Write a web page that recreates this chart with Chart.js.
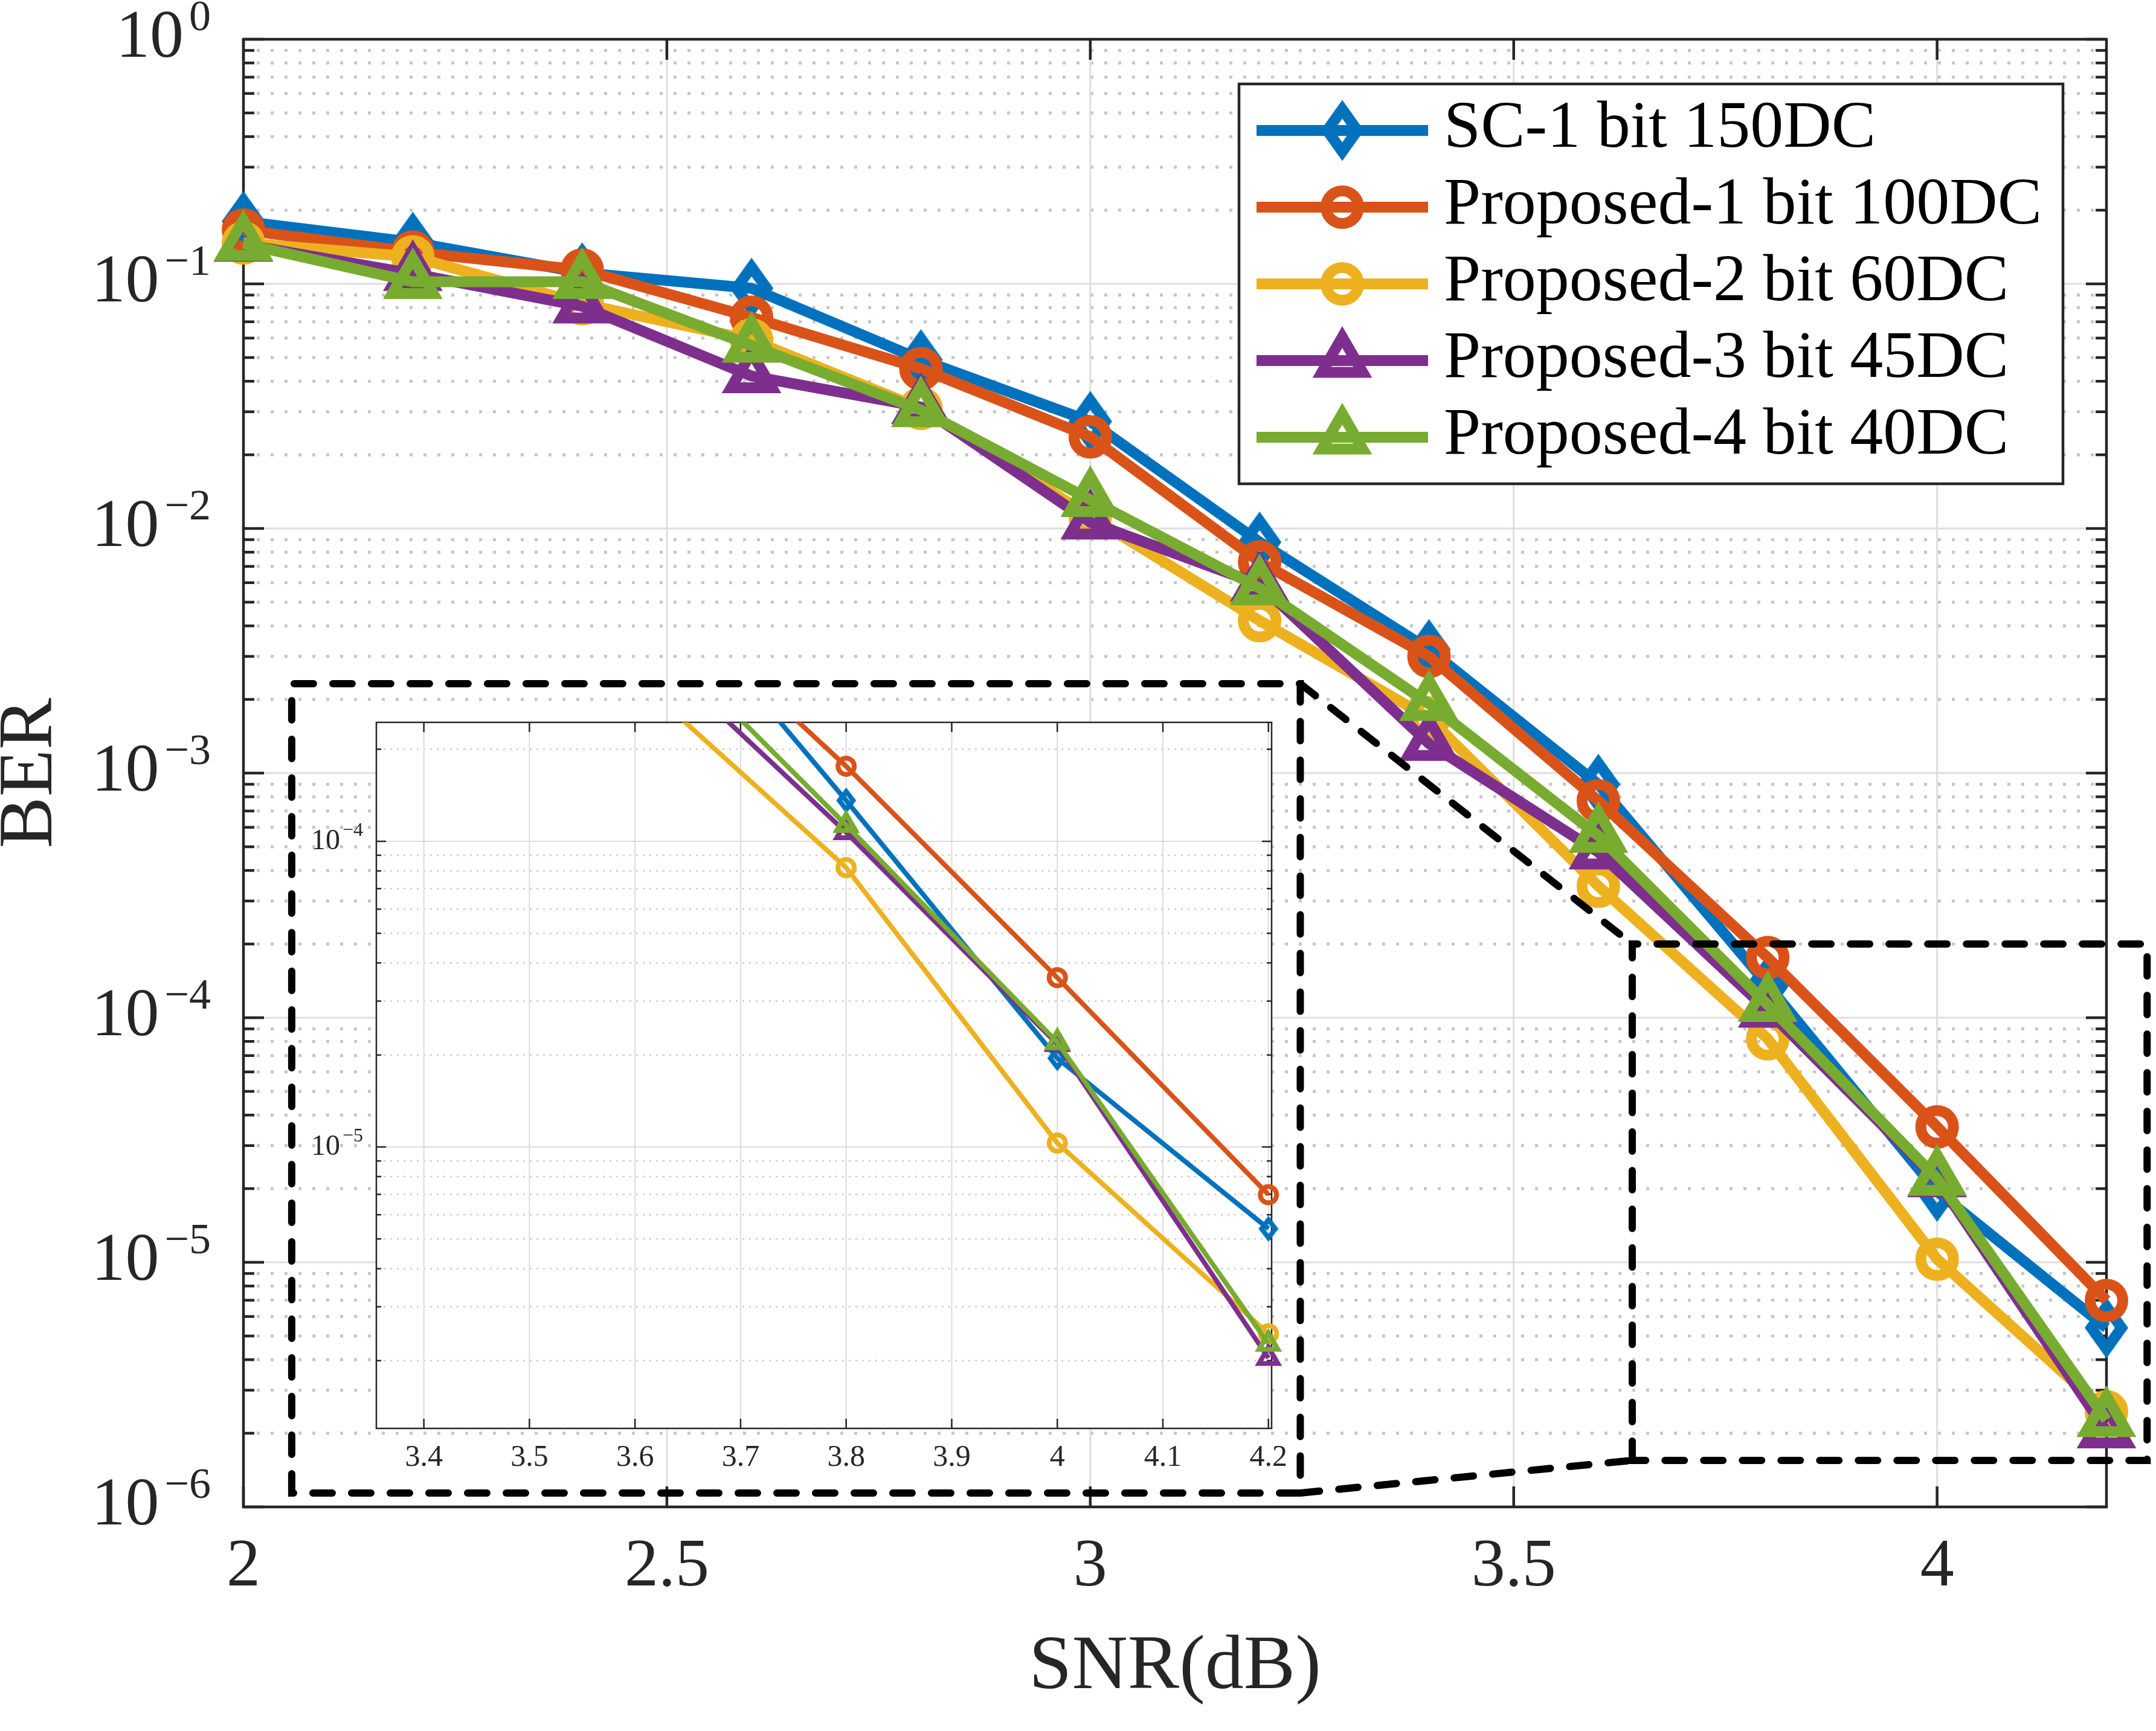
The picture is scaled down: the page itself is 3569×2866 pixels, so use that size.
<!DOCTYPE html>
<html>
<head>
<meta charset="utf-8">
<script src="https://cdn.jsdelivr.net/npm/chart.js@4.4.1/dist/chart.umd.min.js"></script>
<style>
html,body{margin:0;padding:0;background:#ffffff;}
#wrap{position:relative;width:3569px;height:2866px;overflow:hidden;background:#ffffff;}
#main{position:absolute;left:0;top:0;}
#inset{position:absolute;left:480px;top:1140px;}
</style>
</head>
<body>
<div id="wrap">
<canvas id="main" width="3569" height="2866"></canvas>
<canvas id="inset" width="1720" height="1330"></canvas>
</div>
<script>
// ---------------- data ----------------
const snr = [2.0, 2.2, 2.4, 2.6, 2.8, 3.0, 3.2, 3.4, 3.6, 3.8, 4.0, 4.2];
const berSC1bit150DC   = [0.180, 0.148, 0.111, 0.096, 0.049, 0.0274, 0.0088, 0.0032, 0.00090, 0.000136, 1.95e-5, 5.4e-6];
const berProp1bit100DC = [0.166, 0.135, 0.114, 0.073, 0.045, 0.0237, 0.0073, 0.0030, 0.00077, 0.000176, 3.58e-5, 6.98e-6];
const berProp2bit60DC  = [0.147, 0.129, 0.083, 0.059, 0.031, 0.0112, 0.0042, 0.00168, 0.000345, 8.2e-5, 1.03e-5, 2.45e-6];
const berProp3bit45DC  = [0.145, 0.110, 0.081, 0.042, 0.0314, 0.0106, 0.0059, 0.00132, 0.000475, 0.000107, 2.17e-5, 2.04e-6];
const berProp4bit40DC  = [0.146, 0.102, 0.102, 0.056, 0.0305, 0.0131, 0.0057, 0.00192, 0.000555, 0.000113, 2.2e-5, 2.27e-6];
const seriesLabels = ['SC-1 bit 150DC', 'Proposed-1 bit 100DC', 'Proposed-2 bit 60DC', 'Proposed-3 bit 45DC', 'Proposed-4 bit 40DC'];
const seriesValues = [berSC1bit150DC, berProp1bit100DC, berProp2bit60DC, berProp3bit45DC, berProp4bit40DC];

const xTickValues = [2, 2.5, 3, 3.5, 4];
const xTickLabels = ['2', '2.5', '3', '3.5', '4'];
const yTickValues = [1e-6, 1e-5, 1e-4, 1e-3, 1e-2, 1e-1, 1];
const yTickBase = '10';
const yTickExponents = ['\u22126', '\u22125', '\u22124', '\u22123', '\u22122', '\u22121', '0'];
const insetXTickValues = [3.4, 3.5, 3.6, 3.7, 3.8, 3.9, 4.0, 4.1, 4.2];
const insetXTickLabels = ['3.4', '3.5', '3.6', '3.7', '3.8', '3.9', '4', '4.1', '4.2'];
const insetYTickValues = [1e-5, 1e-4];
const insetYTickExponents = ['\u22125', '\u22124'];

// zoom annotation extents (data units of the main axes)
const zoomRegionX = [3.64, 4.248];
const zoomRegionY = [1.55e-6, 2.0e-4];
const insetFrameX = [2.057, 3.248];
const insetFrameY = [1.14e-6, 2.32e-3];

// ---------------- styles ----------------
const FONT = "'Liberation Serif','DejaVu Serif',serif";
const COLORS = ['#0072BD', '#D95319', '#EDB120', '#7E2F8E', '#77AC30'];
const MARKERS = ['diamond', 'circle', 'circle', 'triangle', 'triangle'];
const AXIS = '#262626';

function makeDiamond(color, hw, hh, lw) {
  const c = document.createElement('canvas');
  const pad = lw + 10;
  c.width = Math.ceil(2 * (hw + pad));
  c.height = Math.ceil(2 * (hh + pad));
  const g = c.getContext('2d');
  const cx = c.width / 2, cy = c.height / 2;
  g.strokeStyle = color; g.lineWidth = lw; g.lineJoin = 'miter';
  g.beginPath();
  g.moveTo(cx, cy - hh); g.lineTo(cx + hw, cy); g.lineTo(cx, cy + hh); g.lineTo(cx - hw, cy);
  g.closePath(); g.stroke();
  return c;
}

const mainStyle = {lw: 18, circleR: 27, triR: 39, diamond: makeDiamond(COLORS[0], 25, 35, 18), markerLw: 18};
const insetStyle = {lw: 8, circleR: 13.5, triR: 18, diamond: makeDiamond(COLORS[0], 11.5, 15, 8), markerLw: 8};

function makeDatasets(st, clip) {
  return seriesValues.map((vals, i) => {
    const ps = MARKERS[i] === 'diamond' ? st.diamond : MARKERS[i];
    const r = MARKERS[i] === 'circle' ? st.circleR : st.triR;
    return {
      label: seriesLabels[i],
      data: snr.map((x, k) => ({x: x, y: vals[k]})),
      borderColor: COLORS[i],
      backgroundColor: 'rgba(0,0,0,0)',
      borderWidth: st.lw,
      borderJoinStyle: 'round',
      pointStyle: ps,
      pointRadius: r,
      pointHoverRadius: r,
      pointBorderWidth: st.markerLw,
      pointBorderColor: COLORS[i],
      pointBackgroundColor: 'rgba(0,0,0,0)',
      tension: 0,
      fill: false,
      clip: clip,
      order: seriesValues.length - 1 - i
    };
  });
}

function drawMarker(ctx, kind, st, color, x, y) {
  ctx.save();
  if (kind === 'diamond') {
    ctx.drawImage(st.diamond, x - st.diamond.width / 2, y - st.diamond.height / 2);
  } else {
    ctx.strokeStyle = color; ctx.lineWidth = st.markerLw; ctx.lineJoin = 'miter';
    ctx.beginPath();
    if (kind === 'circle') {
      ctx.arc(x, y, st.circleR, 0, Math.PI * 2);
    } else {
      const r = st.triR;
      for (let k = 0; k < 3; k++) {
        const a = k * 2 * Math.PI / 3;
        const px = x + Math.sin(a) * r, py = y - Math.cos(a) * r;
        if (k === 0) ctx.moveTo(px, py); else ctx.lineTo(px, py);
      }
      ctx.closePath();
    }
    ctx.stroke();
  }
  ctx.restore();
}

// ---------------- frame plugin (grid, inside ticks, box, power-of-ten labels) ----------------
function framePlugin(cfg) {
  return {
    id: 'frame' + cfg.name,
    beforeDatasetsDraw(chart) {
      const ctx = chart.ctx, a = chart.chartArea, xs = chart.scales.x, ys = chart.scales.y;
      ctx.save();
      if (cfg.whiteFill) { ctx.fillStyle = '#ffffff'; ctx.fillRect(a.left, a.top, a.right - a.left, a.bottom - a.top); }
      const majors = [], minors = [];
      const e0 = Math.floor(Math.log10(ys.min)), e1 = Math.ceil(Math.log10(ys.max));
      for (let e = e0; e <= e1; e++) {
        for (let m = 1; m <= 9; m++) {
          const v = m * Math.pow(10, e);
          if (v < ys.min * 0.9999 || v > ys.max * 1.0001) continue;
          (m === 1 ? majors : minors).push(ys.getPixelForValue(v));
        }
      }
      const xp = xs.ticks.map(t => xs.getPixelForValue(t.value));
      ctx.lineCap = 'butt';
      ctx.strokeStyle = cfg.minorColor; ctx.lineWidth = cfg.minorWidth; ctx.setLineDash(cfg.minorDash);
      ctx.beginPath();
      minors.forEach(p => { ctx.moveTo(a.left + cfg.minorTick + 4, p); ctx.lineTo(a.right, p); });
      ctx.stroke();
      ctx.setLineDash([]);
      ctx.strokeStyle = cfg.majorColor; ctx.lineWidth = cfg.majorWidth;
      ctx.beginPath();
      majors.forEach(p => { if (p > a.top + 2 && p < a.bottom - 2) { ctx.moveTo(a.left, p); ctx.lineTo(a.right, p); } });
      xp.forEach(p => { if (p > a.left + 2 && p < a.right - 2) { ctx.moveTo(p, a.top); ctx.lineTo(p, a.bottom); } });
      ctx.stroke();
      ctx.strokeStyle = AXIS; ctx.lineWidth = cfg.tickWidth;
      ctx.beginPath();
      const ytick = (p, len) => { ctx.moveTo(a.left, p); ctx.lineTo(a.left + len, p); ctx.moveTo(a.right, p); ctx.lineTo(a.right - len, p); };
      majors.forEach(p => ytick(p, cfg.majorTick));
      minors.forEach(p => ytick(p, cfg.minorTick));
      xp.forEach(p => { ctx.moveTo(p, a.bottom); ctx.lineTo(p, a.bottom - cfg.majorTick); ctx.moveTo(p, a.top); ctx.lineTo(p, a.top + cfg.majorTick); });
      ctx.stroke();
      ctx.lineWidth = cfg.boxWidth;
      ctx.strokeRect(a.left, a.top, a.right - a.left, a.bottom - a.top);
      ctx.restore();
    },
    afterDraw(chart) {
      // y tick labels of the form 10^n, placed at the scale's pixel for each tick value
      const ctx = chart.ctx, a = chart.chartArea, ys = chart.scales.y;
      ctx.save();
      ctx.fillStyle = AXIS;
      ctx.textAlign = 'right'; ctx.textBaseline = 'alphabetic';
      cfg.yValues.forEach((v, k) => {
        const p = ys.getPixelForValue(v);
        const xr = a.left - cfg.labelPad;
        ctx.font = cfg.expSize + 'px ' + FONT;
        const ew = ctx.measureText(cfg.yExps[k]).width;
        ctx.fillText(cfg.yExps[k], xr, p + cfg.expDy);
        ctx.font = cfg.baseSize + 'px ' + FONT;
        ctx.fillText(yTickBase, xr - ew - cfg.gap, p + cfg.baseDy);
      });
      ctx.restore();
    }
  };
}

// ---------------- zoom marks plugin ----------------
const zoomMarks = {
  id: 'zoomMarks',
  afterDatasetsDraw(chart) {
    const ctx = chart.ctx, xs = chart.scales.x, ys = chart.scales.y;
    const X = v => xs.getPixelForValue(v), Y = v => ys.getPixelForValue(v);
    ctx.save();
    ctx.strokeStyle = '#000000'; ctx.lineWidth = 12; ctx.lineCap = 'round'; ctx.lineJoin = 'miter';
    ctx.setLineDash([32, 32]);
    const rect = (xr, yr) => {
      ctx.beginPath();
      ctx.moveTo(X(xr[0]), Y(yr[0]));
      ctx.lineTo(X(xr[0]), Y(yr[1]));
      ctx.lineTo(X(xr[1]), Y(yr[1]));
      ctx.lineTo(X(xr[1]), Y(yr[0]));
      ctx.closePath();
      ctx.stroke();
    };
    rect(zoomRegionX, zoomRegionY);
    rect(insetFrameX, insetFrameY);
    ctx.beginPath();
    ctx.moveTo(X(insetFrameX[1]), Y(insetFrameY[1])); ctx.lineTo(X(zoomRegionX[0]), Y(zoomRegionY[1]));
    ctx.stroke();
    ctx.beginPath();
    ctx.moveTo(X(insetFrameX[1]), Y(insetFrameY[0])); ctx.lineTo(X(zoomRegionX[0]), Y(zoomRegionY[0]));
    ctx.stroke();
    ctx.restore();
  }
};

// ---------------- legend plugin ----------------
const boxLegend = {
  id: 'boxLegend',
  afterDraw(chart) {
    const ctx = chart.ctx, a = chart.chartArea;
    const left = a.right - 1436, right = a.right - 72, top = a.top + 74, bottom = a.top + 736;
    ctx.save();
    ctx.fillStyle = '#ffffff';
    ctx.fillRect(left, top, right - left, bottom - top);
    ctx.strokeStyle = AXIS; ctx.lineWidth = 4.5;
    ctx.strokeRect(left, top, right - left, bottom - top);
    chart.data.datasets.forEach((ds, i) => {
      const y = top + 77 + 127 * i;
      ctx.strokeStyle = COLORS[i]; ctx.lineWidth = mainStyle.lw; ctx.lineCap = 'butt';
      ctx.beginPath(); ctx.moveTo(left + 29, y); ctx.lineTo(left + 313, y); ctx.stroke();
      drawMarker(ctx, MARKERS[i], mainStyle, COLORS[i], left + 171, y);
      ctx.fillStyle = '#000000';
      ctx.font = '110px ' + FONT;
      ctx.textAlign = 'left'; ctx.textBaseline = 'alphabetic';
      ctx.fillText(ds.label, left + 339, y + 27);
    });
    ctx.restore();
  }
};

function labelFrom(values, labels) {
  return function (v) {
    for (let k = 0; k < values.length; k++) {
      if (Math.abs(values[k] - v) <= Math.abs(values[k]) * 1e-6) return labels[k];
    }
    return '';
  };
}

// ---------------- main chart ----------------
new Chart(document.getElementById('main'), {
  type: 'line',
  data: {datasets: makeDatasets(mainStyle, false)},
  options: {
    responsive: false, devicePixelRatio: 1, animation: false,
    layout: {autoPadding: false, padding: {top: 65, right: 82, left: 0, bottom: 0}},
    plugins: {legend: {display: false}, tooltip: {enabled: false}},
    scales: {
      x: {
        type: 'linear', min: 2, max: 4.2,
        grid: {display: false, drawTicks: false}, border: {display: false},
        afterBuildTicks: s => { s.ticks = xTickValues.map(v => ({value: v})); },
        ticks: {callback: labelFrom(xTickValues, xTickLabels), font: {family: FONT, size: 112, lineHeight: 1.0},
                color: AXIS, padding: 45, maxRotation: 0, minRotation: 0, autoSkip: false},
        title: {display: true, text: 'SNR(dB)', font: {family: FONT, size: 128, lineHeight: 1.0}, color: AXIS,
                padding: {top: 0, bottom: 41}},
        afterFit: s => { s.height = 371; }
      },
      y: {
        type: 'logarithmic', min: 1e-6, max: 1,
        grid: {display: false, drawTicks: false}, border: {display: false},
        afterBuildTicks: s => { s.ticks = yTickValues.map(v => ({value: v})); },
        ticks: {display: false},
        title: {display: true, text: 'BER', font: {family: FONT, size: 128, lineHeight: 0.8}, color: AXIS,
                padding: {top: 0, bottom: 0}},
        afterFit: s => { s.width = 403; }
      }
    }
  },
  plugins: [framePlugin({name: 'Main', whiteFill: false, majorColor: '#dedede', majorWidth: 3,
                         minorColor: '#c6c6c6', minorWidth: 5, minorDash: [5, 18],
                         majorTick: 34, minorTick: 18, tickWidth: 4.5, boxWidth: 4.5,
                         yValues: yTickValues, yExps: yTickExponents,
                         labelPad: 54, baseSize: 112, expSize: 72, baseDy: 29, expDy: -15, gap: 9}),
            zoomMarks, boxLegend]
});

// ---------------- inset chart ----------------
new Chart(document.getElementById('inset'), {
  type: 'line',
  data: {datasets: makeDatasets(insetStyle, {left: 0, top: 0, right: 30, bottom: 30})},
  options: {
    responsive: false, devicePixelRatio: 1, animation: false,
    layout: {autoPadding: false, padding: {top: 56, right: 95, left: 0, bottom: 0}},
    plugins: {legend: {display: false}, tooltip: {enabled: false}},
    scales: {
      x: {
        type: 'linear', min: 3.355, max: 4.203,
        grid: {display: false, drawTicks: false}, border: {display: false},
        afterBuildTicks: s => { s.ticks = insetXTickValues.map(v => ({value: v})); },
        ticks: {callback: labelFrom(insetXTickValues, insetXTickLabels), font: {family: FONT, size: 50, lineHeight: 1.0},
                color: AXIS, padding: 24, maxRotation: 0, minRotation: 0, autoSkip: false},
        afterFit: s => { s.height = 105; }
      },
      y: {
        type: 'logarithmic', min: 1.2e-6, max: 2.45e-4,
        grid: {display: false, drawTicks: false}, border: {display: false},
        afterBuildTicks: s => { s.ticks = insetYTickValues.map(v => ({value: v})); },
        ticks: {display: false},
        afterFit: s => { s.width = 143; }
      }
    }
  },
  plugins: [framePlugin({name: 'Inset', whiteFill: true, majorColor: '#dcdcdc', majorWidth: 2,
                         minorColor: '#cccccc', minorWidth: 2.5, minorDash: [3, 8],
                         majorTick: 16, minorTick: 8, tickWidth: 2.5, boxWidth: 2.5,
                         yValues: insetYTickValues, yExps: insetYTickExponents,
                         labelPad: 22, baseSize: 48, expSize: 32, baseDy: 13, expDy: -9, gap: 4})]
});
</script>
</body>
</html>
